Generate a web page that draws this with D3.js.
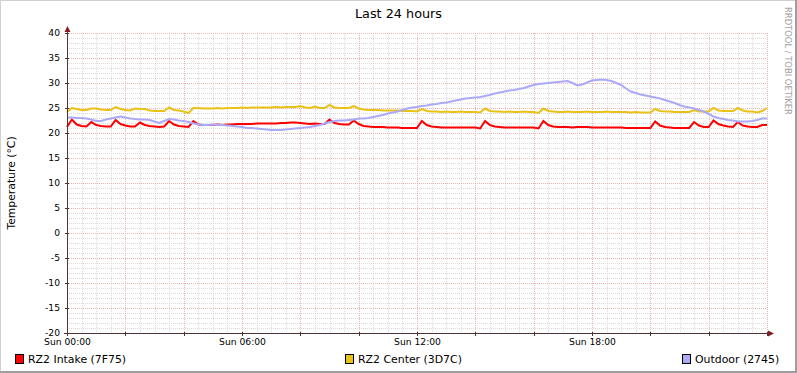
<!DOCTYPE html>
<html><head><meta charset="utf-8">
<script src="https://cdn.jsdelivr.net/npm/d3@7"></script>
<style>
html,body{margin:0;padding:0;background:#fff;}
svg{display:block;font-family:"DejaVu Sans",sans-serif;}
</style></head>
<body>
<svg id="c" width="797" height="373"></svg>
<script>
// ---- data (10-minute samples, hours 0..24) ----
const stepMinutes = 10;
const intake = [21.2,22.7,21.7,21.4,21.3,22.2,21.6,21.4,21.3,21.3,22.6,21.8,21.5,21.3,21.3,22.1,21.6,21.4,21.3,21.2,21.3,22.4,21.7,21.4,21.3,21.2,22.4,21.7,21.6,21.6,21.6,21.7,21.6,21.7,21.7,21.8,21.8,21.8,21.8,21.9,21.9,21.9,21.9,21.9,22.0,22.0,22.1,22.1,22.0,21.9,21.8,21.9,21.8,21.8,22.7,22.0,21.8,21.7,21.7,22.5,21.8,21.4,21.3,21.2,21.2,21.2,21.1,21.1,21.1,21.0,21.0,21.0,21.0,22.4,21.6,21.3,21.2,21.1,21.1,21.1,21.1,21.1,21.1,21.1,21.1,20.9,22.4,21.6,21.3,21.2,21.1,21.1,21.1,21.1,21.1,21.1,21.1,20.9,22.4,21.6,21.3,21.2,21.2,21.2,21.1,21.2,21.2,21.2,21.1,21.1,21.1,21.1,21.1,21.1,21.1,21.0,21.0,21.0,21.0,21.0,21.0,22.3,21.5,21.2,21.1,21.0,21.0,21.0,21.0,22.2,21.5,21.2,21.2,22.5,21.8,21.5,21.3,21.2,22.2,21.5,21.3,21.2,21.2,21.6,21.6];
const center = [24.2,25.0,24.8,24.6,24.6,24.9,24.9,24.7,24.6,24.6,25.2,24.8,24.6,24.5,24.9,24.8,24.8,24.5,24.4,24.4,24.4,25.1,24.6,24.5,24.3,24.0,25.0,25.0,24.9,24.9,24.9,25.0,24.9,25.0,25.0,25.0,25.1,25.0,25.1,25.1,25.1,25.1,25.1,25.2,25.1,25.2,25.2,25.2,25.4,25.1,25.0,25.3,25.0,25.0,25.6,25.1,25.0,25.0,25.0,25.4,24.9,24.7,24.6,24.6,24.6,24.5,24.5,24.5,24.5,24.4,24.4,24.4,24.3,24.8,24.4,24.3,24.3,24.2,24.3,24.2,24.2,24.3,24.2,24.2,24.2,24.1,24.9,24.4,24.3,24.3,24.2,24.3,24.2,24.2,24.3,24.2,24.2,24.0,24.9,24.4,24.3,24.2,24.2,24.3,24.2,24.2,24.2,24.3,24.2,24.2,24.2,24.3,24.2,24.2,24.2,24.2,24.1,24.2,24.1,24.1,24.1,24.8,24.4,24.3,24.3,24.2,24.2,24.2,24.2,24.6,24.3,24.3,24.3,25.0,24.5,24.4,24.4,24.4,25.0,24.5,24.3,24.3,24.1,24.4,25.0];
const outdoor = [23.1,23.1,23.0,23.0,22.9,22.7,22.4,22.4,22.7,22.9,23.1,23.3,23.1,22.9,22.8,22.7,22.7,22.6,22.3,22.0,22.4,22.8,22.7,22.5,22.4,22.2,21.9,21.7,21.6,21.6,21.7,21.6,21.6,21.5,21.4,21.3,21.2,21.0,21.0,20.9,20.8,20.7,20.6,20.6,20.6,20.7,20.8,20.9,21.0,21.1,21.2,21.4,21.6,21.9,22.2,22.4,22.5,22.5,22.6,22.7,22.9,22.9,23.0,23.2,23.4,23.6,23.9,24.1,24.3,24.6,24.9,25.1,25.2,25.4,25.5,25.7,25.8,26.0,26.1,26.3,26.5,26.7,26.9,27.0,27.1,27.2,27.4,27.6,27.9,28.1,28.3,28.5,28.6,28.8,29.0,29.3,29.6,29.8,29.9,30.0,30.1,30.2,30.3,30.4,30.0,29.5,29.7,30.1,30.5,30.6,30.7,30.6,30.4,30.0,29.6,28.9,28.3,28.0,27.7,27.5,27.3,27.1,26.9,26.6,26.3,26.0,25.6,25.3,25.1,24.9,24.6,24.3,23.8,23.3,23.0,22.8,22.6,22.5,22.3,22.3,22.3,22.4,22.6,22.9,22.9];
const seriesNames = ["RZ2 Intake (7F75)", "RZ2 Center (3D7C)", "Outdoor (2745)"];
const seriesColors = ["#FF0000", "#EAC117", "#AAAAF8"];
const xTickHours = [0, 6, 12, 18];
const xTickLabels = ["Sun 00:00", "Sun 06:00", "Sun 12:00", "Sun 18:00"];
const yTicks = [-20,-15,-10,-5,0,5,10,15,20,25,30,35,40];
const title = "Last 24 hours";
const yLabel = "Temperature (°C)";
const watermark = "RRDTOOL / TOBI OETIKER";

// ---- layout ----
const W = 797, H = 373;
const L = 67, R = 767, T = 33, B = 333;
const svg = d3.select("#c");

// background & shade border
svg.append("rect").attr("x",0).attr("y",0).attr("width",W).attr("height",H).attr("fill","#FFFFFF");
svg.append("path").attr("d",`M0.5,${H}V0.5H${W}`).attr("fill","none").attr("stroke","#CFCFCF").attr("stroke-width",1);
svg.append("path").attr("d",`M0,${H-1}H${W-1}V0`).attr("fill","none").attr("stroke","#9E9E9E").attr("stroke-width",2);

const x = d3.scaleLinear().domain([0,24]).range([L,R]);
const y = d3.scaleLinear().domain([-20,40]).range([B,T]);

// grid
const g = svg.append("g").attr("shape-rendering","crispEdges");
const minorX = d3.range(0, 24.001, 0.5).filter(h => h % 2 !== 0);
const majorX = d3.range(0, 24.001, 2);
const minorY = d3.range(-20, 40.001, 1).filter(v => v % 5 !== 0);
const majorY = d3.range(-20, 40.001, 5);
const minorCol = "#DADADA", majorCol = "#EDB3B3";
g.selectAll(".mnx").data(minorX).join("line")
  .attr("x1",d=>Math.round(x(d))+0.5).attr("x2",d=>Math.round(x(d))+0.5).attr("y1",T).attr("y2",B)
  .attr("stroke",minorCol).attr("stroke-dasharray","1,1");
g.selectAll(".mny").data(minorY).join("line")
  .attr("y1",d=>Math.round(y(d))+0.5).attr("y2",d=>Math.round(y(d))+0.5).attr("x1",L).attr("x2",R)
  .attr("stroke",minorCol).attr("stroke-dasharray","1,1");
g.selectAll(".mjx").data(majorX).join("line")
  .attr("x1",d=>Math.round(x(d))+0.5).attr("x2",d=>Math.round(x(d))+0.5).attr("y1",T).attr("y2",B)
  .attr("stroke",majorCol).attr("stroke-dasharray","1,1");
g.selectAll(".mjy").data(majorY).join("line")
  .attr("y1",d=>Math.round(y(d))+0.5).attr("y2",d=>Math.round(y(d))+0.5).attr("x1",L).attr("x2",R)
  .attr("stroke",majorCol).attr("stroke-dasharray","1,1");

// series lines
const line = d3.line().x((d,i)=>x(i*stepMinutes/60)).y(d=>y(d));
[intake, center, outdoor].forEach((s,k)=>{
  svg.append("path").datum(s).attr("d",line).attr("fill","none")
    .attr("stroke",seriesColors[k]).attr("stroke-width",2).attr("stroke-linejoin","miter");
});

// axes
const axisColor = "#4A3434";
const xAxis = d3.axisBottom(x).tickValues(xTickHours).tickFormat((d,i)=>xTickLabels[i]).tickSize(0).tickPadding(5);
const xa = svg.append("g").attr("transform",`translate(0,${B})`).call(xAxis);
xa.select(".domain").remove();
xa.selectAll("text").attr("font-size","9.2px").attr("fill","#000").attr("font-family","DejaVu Sans");
const yAxis = d3.axisLeft(y).tickValues(yTicks).tickFormat(d=>d).tickSize(0).tickPadding(7);
const ya = svg.append("g").attr("transform",`translate(${L},0)`).call(yAxis);
ya.select(".domain").remove();
ya.selectAll("text").attr("font-size","9.2px").attr("fill","#000").attr("font-family","DejaVu Sans");

const ax = svg.append("g").attr("shape-rendering","crispEdges");
ax.append("line").attr("x1",L-3).attr("x2",R+2).attr("y1",B+0.5).attr("y2",B+0.5).attr("stroke",axisColor);
ax.append("line").attr("x1",L+0.5).attr("x2",L+0.5).attr("y1",B+3).attr("y2",T-3).attr("stroke",axisColor);
// ticks on axes
ax.selectAll(".tx").data(majorX).join("line")
  .attr("x1",d=>Math.round(x(d))+0.5).attr("x2",d=>Math.round(x(d))+0.5).attr("y1",B-1).attr("y2",B+3).attr("stroke",axisColor);
ax.selectAll(".ty").data(majorY).join("line")
  .attr("y1",d=>Math.round(y(d))+0.5).attr("y2",d=>Math.round(y(d))+0.5).attr("x1",L-2).attr("x2",L+2).attr("stroke",axisColor);
// arrows
svg.append("path").attr("d",`M${L-2.5},${T-1}L${L+0.5},${T-7}L${L+3.5},${T-1}Z`).attr("fill","#7F1F1F");
svg.append("path").attr("d",`M${R+1},${B-2.5}L${R+7},${B+0.5}L${R+1},${B+3.5}Z`).attr("fill","#7F1F1F");

// title
svg.append("text").attr("x",W/2).attr("y",18).attr("text-anchor","middle")
  .attr("font-size","12.8px").attr("fill","#000").text(title);
// y label
svg.append("text").attr("transform",`translate(15,183) rotate(-90)`).attr("text-anchor","middle")
  .attr("font-size","10.8px").attr("fill","#000").text(yLabel);
// watermark
svg.append("text").attr("transform",`translate(785,7) rotate(90)`).attr("text-anchor","start")
  .attr("font-size","8.4px").attr("fill","#A0A0A0").text(watermark);

// legend
const legX = [15, 345, 682];
seriesNames.forEach((n,k)=>{
  svg.append("rect").attr("x",legX[k]+0.5).attr("y",354.5).attr("width",8).attr("height",9)
    .attr("fill",seriesColors[k]).attr("stroke","#000").attr("stroke-width",1).attr("shape-rendering","crispEdges");
  svg.append("text").attr("x",legX[k]+13).attr("y",363).attr("font-size","10.9px").attr("fill","#000").text(n);
});
</script>
</body></html>
